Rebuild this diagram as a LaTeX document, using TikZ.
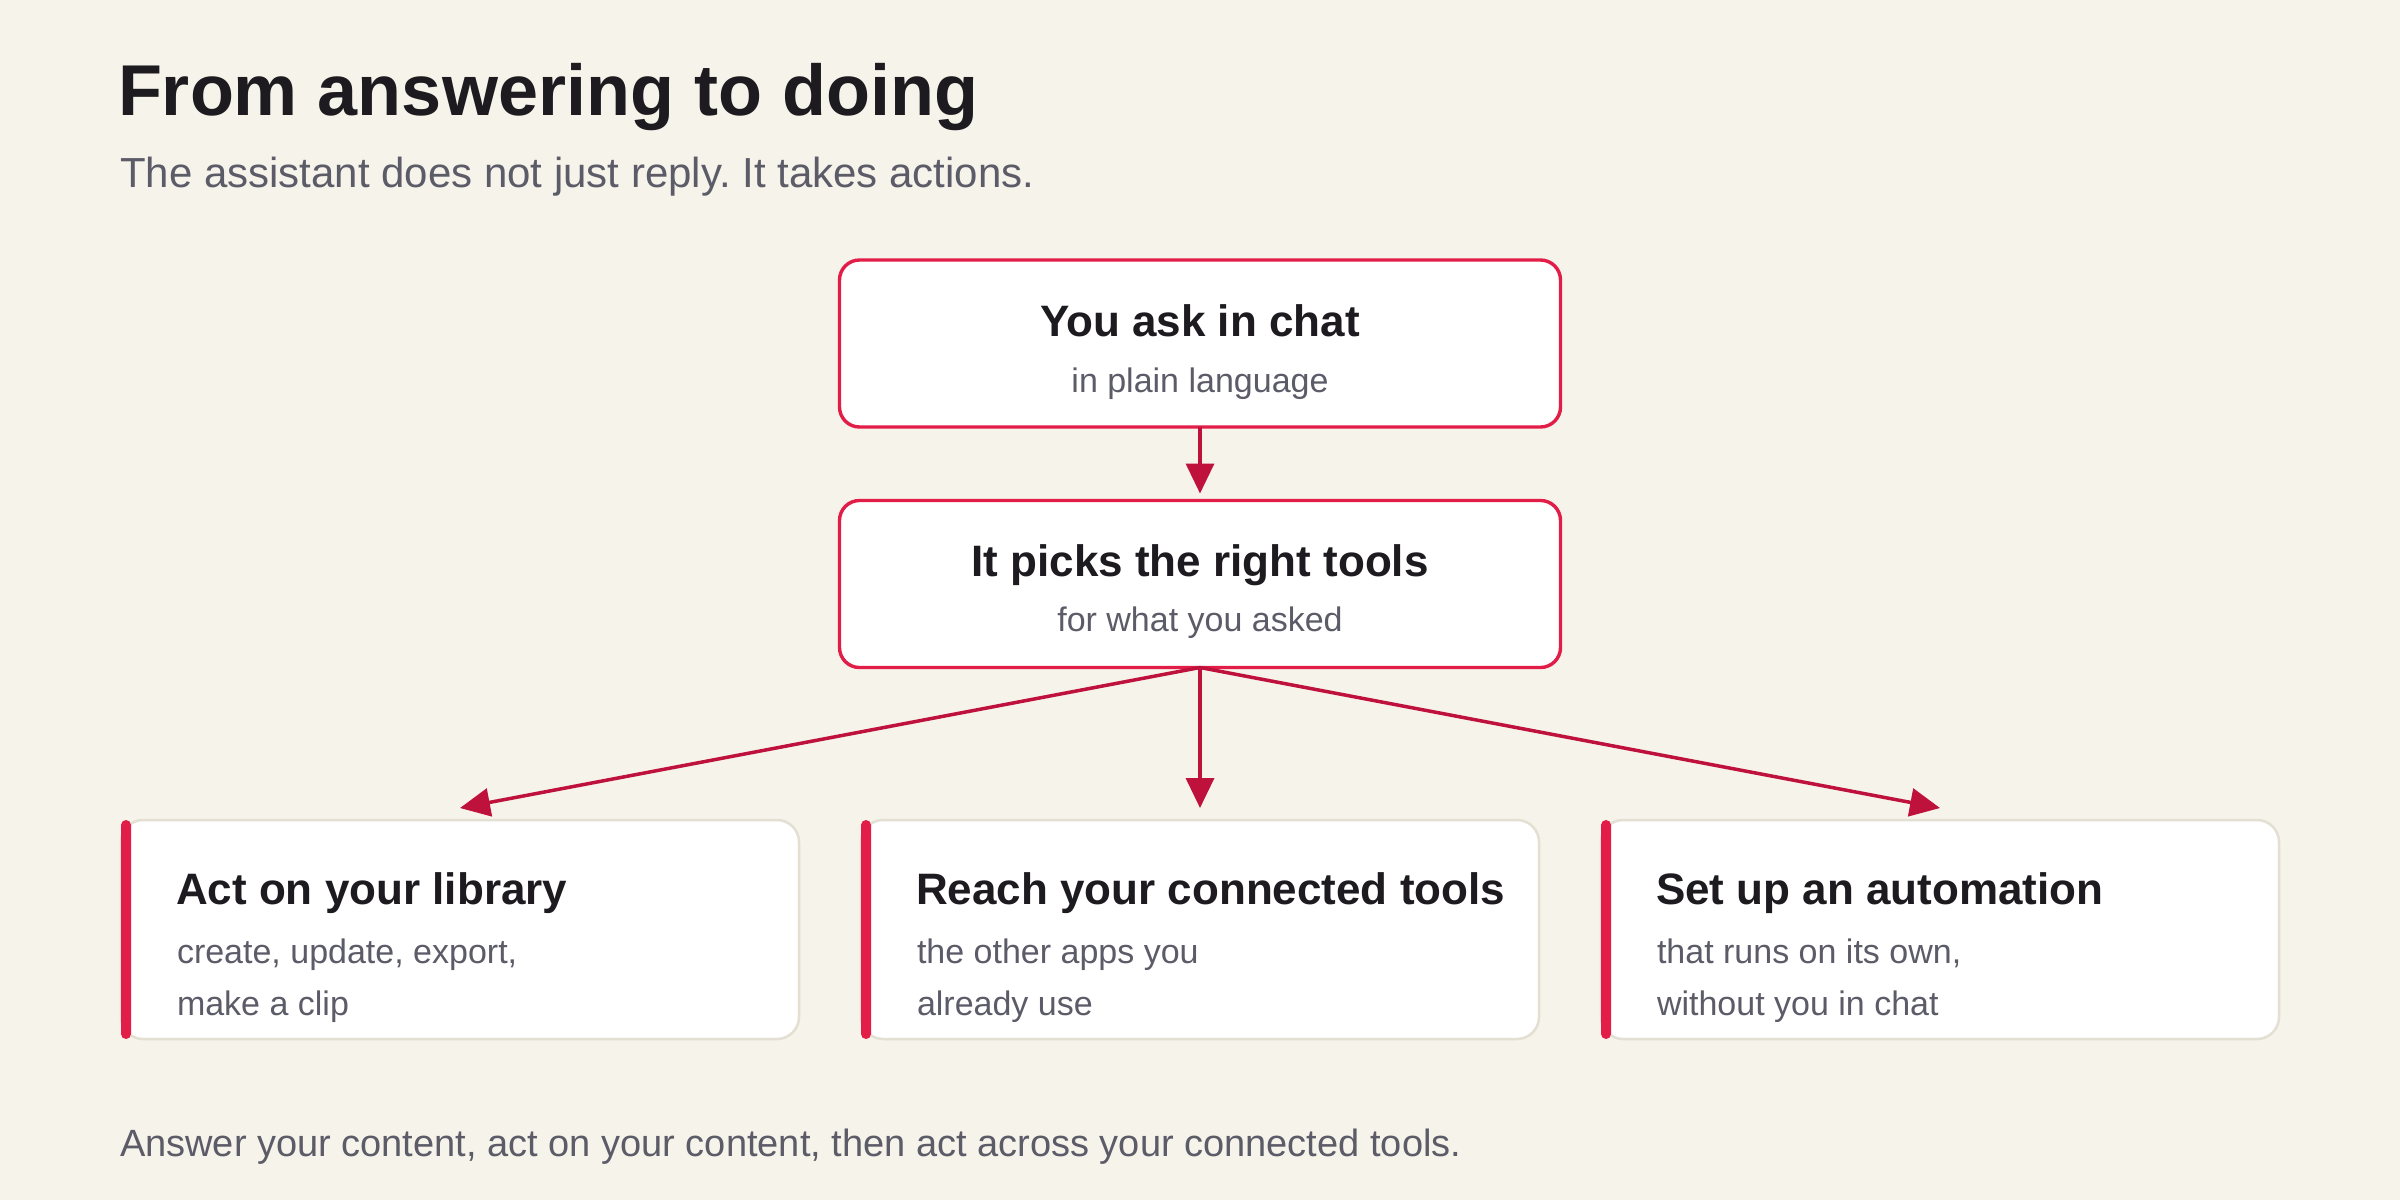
\documentclass[tikz,border=0pt]{standalone}
\usepackage{fontspec}
\setmainfont{Liberation Sans}
\usetikzlibrary{arrows.meta,calc}
\definecolor{bg}{HTML}{F6F3EA}
\definecolor{ink}{HTML}{1D1B20}
\definecolor{muted}{HTML}{5C5B68}
\definecolor{boxred}{HTML}{E11D48}
\definecolor{arrowred}{HTML}{BE123C}
\definecolor{cardline}{HTML}{E4DFD3}
\frenchspacing
\begin{document}
\begin{tikzpicture}[x=1pt,y=-1pt,
  every node/.style={inner sep=0pt, outer sep=0pt},
  flowbox/.style={draw=boxred, line width=3.4pt, fill=white, rounded corners=20pt,
    minimum width=721pt, minimum height=167pt},
  card/.style={draw=cardline, line width=2.5pt, fill=white, rounded corners=22pt,
    minimum width=678pt, minimum height=219pt},
  accent/.style={fill=boxred, rounded corners=5pt},
  ttl/.style={font=\fontsize{44}{52}\selectfont\bfseries, text=ink},
  sub/.style={font=\fontsize{34}{52}\selectfont, text=muted},
  flow/.style={draw=arrowred, line width=3.5pt, -{Triangle[width=28pt,length=30pt]}},
]
\fill[bg] (0,0) rectangle (2400,1200);
\useasboundingbox (0,0) rectangle (2400,1200);

% heading
\node[anchor=base west, font=\fontsize{72}{86}\selectfont\bfseries, text=ink] (title) at (118,115) {From answering to doing};
\node[anchor=base west, font=\fontsize{42}{50}\selectfont, text=muted] (subtitle) at (120,187) {The assistant does not just reply. It takes actions.};

% flow boxes
\node[flowbox] (ask) at (1200,343.5) {};
\node[ttl, anchor=base] (askT) at ($(ask.north)+(0,76)$) {You ask in chat};
\node[sub, anchor=base] (askS) at ($(ask.north)+(0,132)$) {in plain language};

\node[flowbox] (pick) at (1200,584) {};
\node[ttl, anchor=base] (pickT) at ($(pick.north)+(0,76)$) {It picks the right tools};
\node[sub, anchor=base] (pickS) at ($(pick.north)+(0,131)$) {for what you asked};

% cards
\node[card] (c1) at (460,929.5) {};
\node[card] (c2) at (1200,929.5) {};
\node[card] (c3) at (1940,929.5) {};
\foreach \c in {c1,c2,c3} {
  \fill[accent] (\c.north west) rectangle ++(10,219);
}
\node[ttl, anchor=base west] (c1T) at ($(c1.north west)+(55,84)$) {Act on your library};
\node[sub, anchor=base west] (c1A) at ($(c1.north west)+(56,143)$) {create, update, export,};
\node[sub, anchor=base west] (c1B) at ($(c1.north west)+(56,195)$) {make a clip};

\node[ttl, anchor=base west] (c2T) at ($(c2.north west)+(55,84)$) {Reach your connected tools};
\node[sub, anchor=base west] (c2A) at ($(c2.north west)+(56,143)$) {the other apps you};
\node[sub, anchor=base west] (c2B) at ($(c2.north west)+(56,195)$) {already use};

\node[ttl, anchor=base west] (c3T) at ($(c3.north west)+(55,84)$) {Set up an automation};
\node[sub, anchor=base west] (c3A) at ($(c3.north west)+(56,143)$) {that runs on its own,};
\node[sub, anchor=base west] (c3B) at ($(c3.north west)+(56,195)$) {without you in chat};

% connectors
\draw[flow, shorten >=7pt] (ask.south) -- (pick.north);
\draw[flow] (pick.south) -- ([yshift=12pt]c1.north);
\draw[flow] (pick.south) -- ([yshift=12pt]c2.north);
\draw[flow] (pick.south) -- ([yshift=12pt]c3.north);

% footer
\node[anchor=base west, font=\fontsize{38}{46}\selectfont, text=muted] (footer) at (120,1156) {Answer your content, act on your content, then act across your connected tools.};
\end{tikzpicture}
\end{document}
